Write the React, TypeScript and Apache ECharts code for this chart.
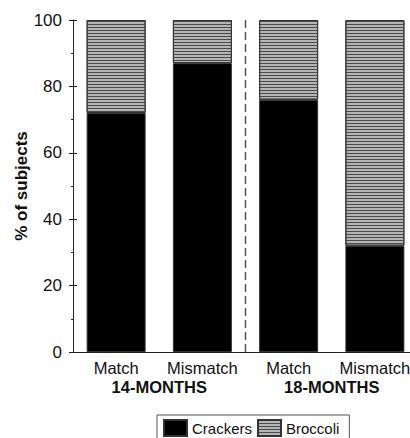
import React, { useEffect, useRef } from "react";
import * as echarts from "echarts";

const categories = ["Match", "Mismatch", "Match", "Mismatch"];
const groups = ["14-MONTHS", "18-MONTHS"];
const crackers = [72, 87, 76, 32];
const broccoli = [28, 13, 24, 68];
const yTicks = { min: 0, max: 100, interval: 20 };

export default function App() {
  const ref = useRef<HTMLDivElement>(null);
  useEffect(() => {
    if (!ref.current) return;
    const chart = echarts.init(ref.current, null, { renderer: "svg" });
    const font = "Liberation Sans, Arial, Helvetica, sans-serif";
    const border = { borderColor: "#333", borderWidth: 1 };
    chart.setOption({
      animation: false,
      textStyle: { fontFamily: font, color: "#111" },
      grid: { left: 73, top: 20, bottom: 86, width: 345, outerBoundsMode: "none", containLabel: false },
      legend: {
        data: ["Crackers", "Broccoli"],
        left: 157,
        top: 415,
        icon: "rect",
        itemWidth: 23,
        itemHeight: 16,
        itemGap: 5,
        padding: [4, 10, 4, 6],
        borderColor: "#555",
        borderWidth: 1,
        textStyle: { fontSize: 15, color: "#111", fontFamily: font },
      },
      xAxis: {
        type: "category",
        data: categories,
        axisLine: { lineStyle: { color: "#222", width: 1 } },
        axisTick: { show: false },
        axisLabel: { fontSize: 16.5, color: "#111", margin: 7, interval: 0 },
      },
      yAxis: [
        {
          type: "value",
          ...yTicks,
          name: "% of subjects",
          nameLocation: "middle",
          nameGap: 43,
          nameMoveOverlap: false,
          nameTextStyle: { fontSize: 17, fontWeight: "bold", color: "#111" },
          axisLine: { show: true, lineStyle: { color: "#222", width: 1 } },
          axisTick: { show: true, length: 4, lineStyle: { color: "#222" } },
          minorTick: { show: true, splitNumber: 2, length: 2, lineStyle: { color: "#222" } },
          splitLine: { show: false },
          axisLabel: { fontSize: 17, color: "#111", margin: 11 },
        },
        {
          type: "value",
          ...yTicks,
          position: "left",
          axisLine: { show: false },
          axisTick: { show: true, inside: true, length: 4, lineStyle: { color: "#222" } },
          minorTick: { show: false },
          splitLine: { show: false },
          axisLabel: { show: false },
        },
      ],
      series: [
        {
          name: "Crackers",
          type: "bar",
          stack: "a",
          barWidth: 59,
          data: crackers,
          itemStyle: { color: "#000", ...border },
        },
        {
          name: "Broccoli",
          type: "bar",
          stack: "a",
          barWidth: 59,
          data: broccoli,
          itemStyle: {
            color: "#b5b5b5",
            ...border,
            decal: {
              symbol: "rect",
              symbolSize: 1,
              color: "#4a4a4a",
              dashArrayX: [1, 0],
              dashArrayY: [1, 2],
              rotation: 0,
            },
          },
        },
      ],
    });

    const p = (i: number) => chart.convertToPixel({ xAxisIndex: 0 }, i) as number;
    const y100 = chart.convertToPixel({ yAxisIndex: 0 }, 100) as number;
    const y0 = chart.convertToPixel({ yAxisIndex: 0 }, 0) as number;
    const divX = (p(1) + p(2)) / 2;
    chart.setOption({
      graphic: [
        {
          type: "line",
          shape: { x1: divX, y1: y100, x2: divX, y2: y0 },
          style: { stroke: "#555", lineWidth: 1.5, lineDash: [8, 4] },
        },
        ...groups.map((g, k) => ({
          type: "text",
          x: (p(2 * k) + p(2 * k + 1)) / 2,
          y: y0 + 35,
          style: {
            text: g,
            fontSize: 16.5,
            fontWeight: "bold",
            fontFamily: font,
            fill: "#111",
            align: "center",
            verticalAlign: "middle",
          },
        })),
      ],
    });
    return () => chart.dispose();
  }, []);
  return (
    <div style={{ position: "absolute", left: 0, top: 0, width: 410, height: 438, overflow: "hidden" }}>
      <div ref={ref} style={{ width: 410, height: 438 }} />
    </div>
  );
}
